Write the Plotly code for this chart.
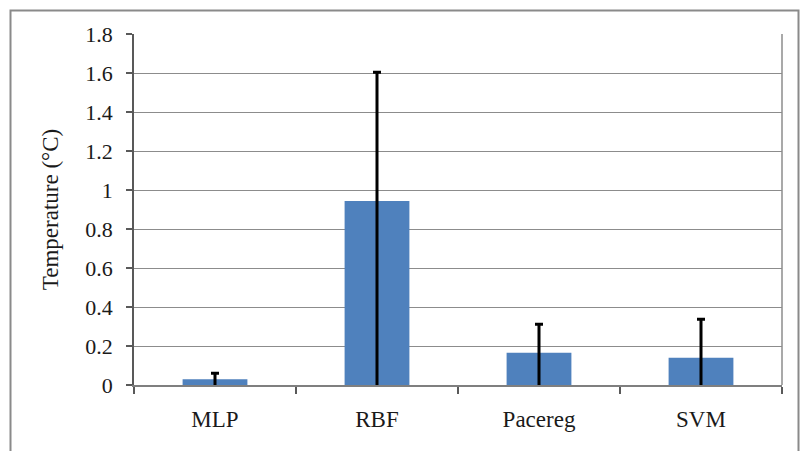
import plotly.graph_objects as go

# Mean temperature error per model, with its standard deviation
models = ["MLP", "RBF", "Pacereg", "SVM"]
mean_error = [0.03, 0.944, 0.166, 0.14]
std_error = [0.03, 0.66, 0.145, 0.197]

# Lower whiskers run down through the baseline, where the axis clips them
lower_reach = [m + 0.05 for m in mean_error]

FONT = "Liberation Serif, Times New Roman, serif"

fig = go.Figure(
    go.Bar(
        x=models,
        y=mean_error,
        width=0.4,
        cliponaxis=True,
        marker=dict(color="#4F81BD", line=dict(width=0)),
        error_y=dict(
            type="data",
            symmetric=False,
            array=std_error,
            arrayminus=lower_reach,
            color="#000000",
            thickness=3,
            width=4,
        ),
        showlegend=False,
    )
)

# Plot area geometry in pixels
W, H = 800, 451
L, R, T, B = 134, 18, 34, 66
pw, ph = W - L - R, H - T - B

def px_x(p):
    return (p - L) / pw

def px_y(p):
    return (H - B - p) / ph

fig.update_layout(
    width=W,
    height=H,
    margin=dict(l=L, r=R, t=T, b=B, pad=0),
    paper_bgcolor="#ffffff",
    plot_bgcolor="#ffffff",
    font=dict(family=FONT, size=22, color="#1a1a1a"),
    bargap=0.6,
    shapes=[
        # outer chart frame
        dict(type="rect", xref="paper", yref="paper",
             x0=px_x(10.5), x1=px_x(798.5), y0=px_y(460), y1=px_y(10.5),
             line=dict(color="#8a8a8a", width=2), layer="below"),
        # right border of the plot area
        dict(type="line", xref="paper", yref="paper",
             x0=1, x1=1, y0=0, y1=1,
             line=dict(color="#8c8c8c", width=1.5)),
    ],
)

fig.update_xaxes(
    type="category",
    showgrid=False,
    showline=True,
    linecolor="#7f7f7f",
    linewidth=1.5,
    ticks="outside",
    tickson="boundaries",
    ticklen=7,
    tickwidth=1.5,
    tickcolor="#595959",
    ticklabelstandoff=13,
    tickfont=dict(family=FONT, size=23, color="#1a1a1a"),
)

fig.update_yaxes(
    range=[0, 1.8],
    dtick=0.2,
    tick0=0,
    showgrid=True,
    gridcolor="#8c8c8c",
    gridwidth=1,
    zeroline=False,
    showline=True,
    linecolor="#595959",
    linewidth=1.5,
    ticks="outside",
    ticklen=6,
    tickwidth=1.5,
    tickcolor="#595959",
    ticklabelstandoff=9,
    tickfont=dict(family=FONT, size=22, color="#1a1a1a"),
    title=dict(text="Temperature (°C)", standoff=20,
               font=dict(family=FONT, size=23, color="#1a1a1a")),
)

fig.write_html("out.html")
